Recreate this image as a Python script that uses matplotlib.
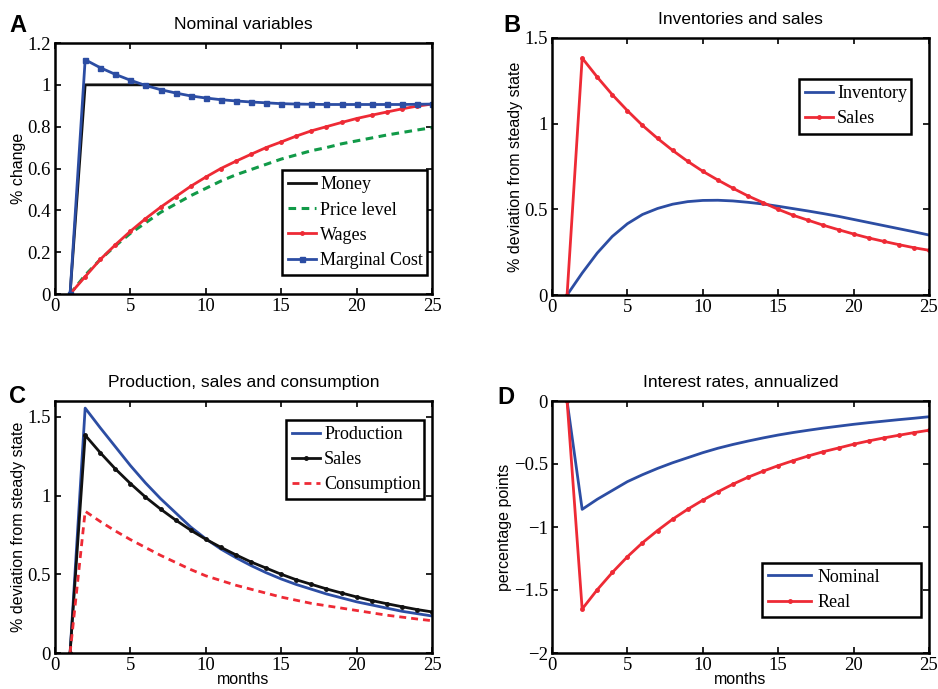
import matplotlib
matplotlib.use("Agg")
import matplotlib.pyplot as plt
import numpy as np

months = list(range(1, 26))

# Panel A
money = [0] + [1.0] * 24
price_level = [0, 0.09, 0.165, 0.23, 0.29, 0.34, 0.39, 0.43, 0.47, 0.505, 0.54, 0.57, 0.595,
               0.62, 0.645, 0.665, 0.685, 0.70, 0.718, 0.732, 0.746, 0.76, 0.772, 0.784, 0.795]
wages = [0, 0.083, 0.165, 0.235, 0.30, 0.36, 0.415, 0.465, 0.515, 0.559, 0.60, 0.635, 0.668,
         0.70, 0.727, 0.755, 0.78, 0.80, 0.82, 0.839, 0.855, 0.87, 0.885, 0.898, 0.908]
marginal_cost = [0, 1.12, 1.082, 1.05, 1.022, 0.997, 0.977, 0.961, 0.947, 0.937, 0.929, 0.923,
                 0.918, 0.914, 0.910, 0.908, 0.907, 0.906, 0.906, 0.906, 0.906, 0.906, 0.906,
                 0.907, 0.908]

# Panel B
sales = [0, 1.383, 1.272, 1.169, 1.076, 0.990, 0.914, 0.844, 0.780, 0.722, 0.671, 0.623,
         0.578, 0.539, 0.500, 0.465, 0.436, 0.407, 0.381, 0.356, 0.333, 0.313, 0.294, 0.276, 0.261]
inventory = [0, 0.128, 0.245, 0.342, 0.416, 0.470, 0.505, 0.530, 0.545, 0.552, 0.553, 0.549,
             0.541, 0.531, 0.518, 0.504, 0.490, 0.475, 0.459, 0.441, 0.423, 0.405, 0.387,
             0.369, 0.350]

# Panel C
production = [0, 1.555, 1.43, 1.31, 1.19, 1.08, 0.98, 0.89, 0.80, 0.725, 0.66, 0.605, 0.555,
              0.51, 0.47, 0.435, 0.405, 0.375, 0.35, 0.325, 0.305, 0.285, 0.265, 0.25, 0.235]
consumption = [0, 0.90, 0.835, 0.775, 0.72, 0.67, 0.62, 0.575, 0.53, 0.49, 0.46, 0.43, 0.405,
               0.38, 0.355, 0.335, 0.315, 0.30, 0.285, 0.27, 0.255, 0.24, 0.228, 0.216, 0.205]

# Panel D
nominal = [0, -0.86, -0.78, -0.71, -0.64, -0.585, -0.535, -0.49, -0.45, -0.41, -0.375, -0.345,
           -0.318, -0.293, -0.27, -0.25, -0.232, -0.215, -0.20, -0.185, -0.172, -0.16, -0.148,
           -0.137, -0.125]
real = [0, -1.651, -1.498, -1.361, -1.236, -1.125, -1.028, -0.938, -0.859, -0.787, -0.721,
        -0.660, -0.605, -0.557, -0.513, -0.473, -0.436, -0.402, -0.373, -0.343, -0.317, -0.293,
        -0.272, -0.251, -0.232]

BLUE = "#2c4da3"
RED = "#ee2a35"
GREEN = "#119a48"
BLACK = "#111111"

SERIF = "Liberation Serif"
SANS = "Liberation Sans"

fig = plt.figure(figsize=(9.38, 6.89), dpi=100)
W, H = 938, 689

def make_ax(x0, x1, ytop, ybot):
    return fig.add_axes([x0 / W, 1 - ybot / H, (x1 - x0) / W, (ybot - ytop) / H])

axA = make_ax(55, 432, 43, 294)
axB = make_ax(552, 929, 38, 295)
axC = make_ax(55, 432, 401, 653)
axD = make_ax(552, 929, 401, 653)

def style(ax, ylim, yticks, yticklabels, title, ylabel, xlabel=None):
    ax.set_xlim(0, 25)
    ax.set_ylim(*ylim)
    ax.set_xticks([0, 5, 10, 15, 20, 25])
    ax.set_yticks(yticks)
    ax.set_yticklabels(yticklabels)
    ax.tick_params(direction="in", top=True, right=True, length=4, width=1.2,
                   labelsize=13.5, pad=3)
    for lab in ax.get_xticklabels() + ax.get_yticklabels():
        lab.set_fontfamily(SERIF)
    for s in ax.spines.values():
        s.set_linewidth(1.8)
    ax.set_title(title, fontfamily=SANS, fontsize=12.5, pad=10)
    ax.set_ylabel(ylabel, fontfamily=SANS, fontsize=11.5, labelpad=1)
    if xlabel:
        ax.set_xlabel(xlabel, fontfamily=SANS, fontsize=11.5, labelpad=-1.5)

def legend(ax, loc, anchor, hlen=1.55, htp=0.22):
    leg = ax.legend(loc=loc, bbox_to_anchor=anchor, mode="expand",
                    prop={"family": SERIF, "size": 13},
                    fancybox=False, framealpha=1, edgecolor="black", handlelength=hlen,
                    handletextpad=htp, borderpad=0.34, labelspacing=0.45, borderaxespad=0)
    leg.get_frame().set_linewidth(1.8)

# Panel A
axA.plot(months, money, color=BLACK, lw=2, label="Money")
axA.plot(months, price_level, color=GREEN, lw=2.2, ls=(0, (2.5, 1.8)), label="Price level")
axA.plot(months, wages, color=RED, lw=2, marker="o", ms=2.5, label="Wages")
axA.plot(months, marginal_cost, color=BLUE, lw=2, marker="s", ms=3.6, label="Marginal Cost")
style(axA, (0, 1.2), [0, 0.2, 0.4, 0.6, 0.8, 1, 1.2],
      ["0", "0.2", "0.4", "0.6", "0.8", "1", "1.2"], "Nominal variables", "% change")
legend(axA, "lower left", (0.602, 0.0757, 0.385, 0.9))

# Panel B
axB.plot(months, inventory, color=BLUE, lw=2, label="Inventory")
axB.plot(months, sales, color=RED, lw=2, marker="o", ms=2.5, label="Sales")
style(axB, (0, 1.5), [0, 0.5, 1, 1.5], ["0", "0.5", "1", "1.5"],
      "Inventories and sales", "% deviation from steady state")
legend(axB, "upper left", (0.655, 0.0, 0.297, 0.840))

# Panel C
axC.plot(months, production, color=BLUE, lw=2, label="Production")
axC.plot(months, sales, color=BLACK, lw=2, marker="o", ms=2.5, label="Sales")
axC.plot(months, consumption, color=RED, lw=2, ls=(0, (2.5, 1.8)), label="Consumption")
style(axC, (0, 1.6), [0, 0.5, 1, 1.5], ["0", "0.5", "1", "1.5"],
      "Production, sales and consumption", "% deviation from steady state", "months")
legend(axC, "upper left", (0.613, 0.0, 0.366, 0.925))

# Panel D
axD.plot(months, nominal, color=BLUE, lw=2, label="Nominal")
axD.plot(months, real, color=RED, lw=2, marker="o", ms=2.5, label="Real")
style(axD, (-2, 0), [-2, -1.5, -1, -0.5, 0], ["\u22122", "\u22121.5", "\u22121", "\u22120.5", "0"],
      "Interest rates, annualized", "percentage points", "months")
legend(axD, "lower left", (0.557, 0.143, 0.422, 0.8), hlen=2.4, htp=0.33)

# Panel letters
for letter, (x, y) in {"A": (9, 32), "B": (503, 32), "C": (9, 403), "D": (497, 404)}.items():
    fig.text(x / W, 1 - y / H, letter, fontfamily=SANS, fontweight="bold", fontsize=17,
             ha="left", va="baseline")

fig.savefig("out.png", dpi=100)
